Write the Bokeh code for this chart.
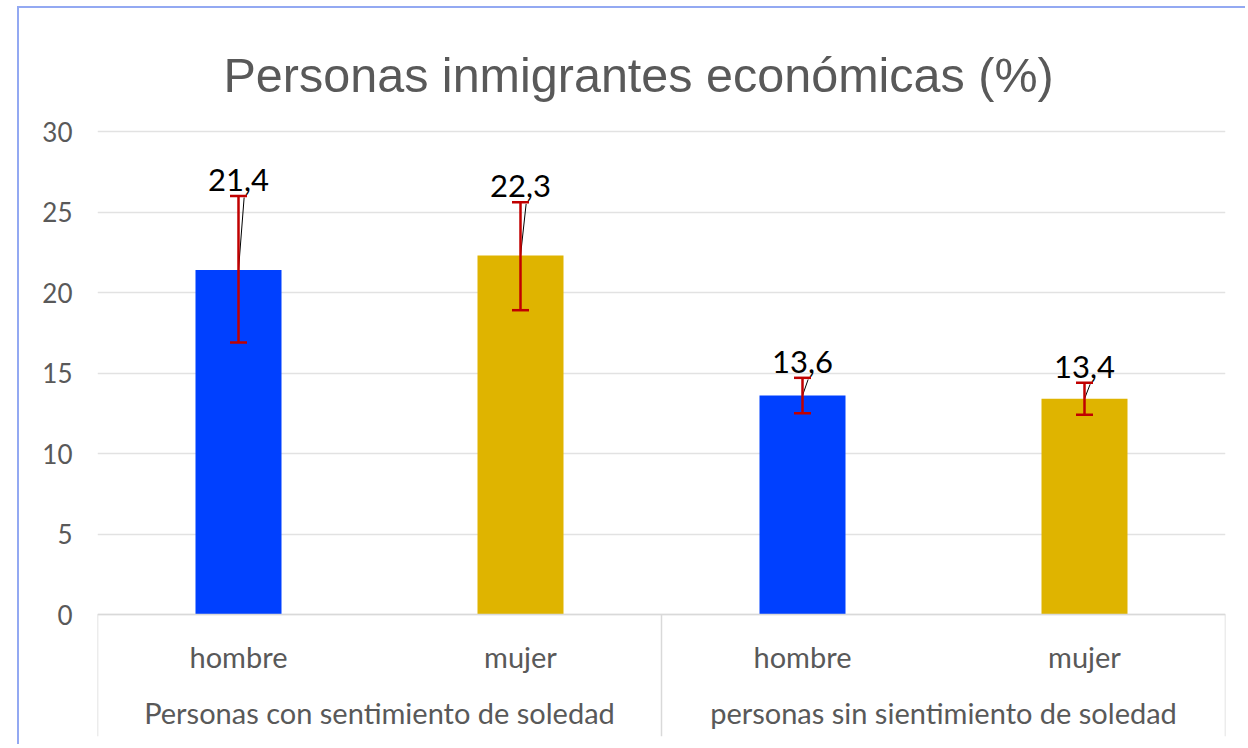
from bokeh.plotting import figure
from bokeh.models import FactorRange, ColumnDataSource, Whisker, TeeHead, FixedTicker
from bokeh.core.properties import value
from bokeh.embed import file_html
from bokeh.resources import INLINE

# ---- data ----
groups = ["Personas con sentimiento de soledad", "Personas con sentimiento de soledad",
          "personas sin sientimiento de soledad", "personas sin sientimiento de soledad"]
sexes = ["hombre", "mujer", "hombre", "mujer"]
values = [21.4, 22.3, 13.6, 13.4]
err_upper = [26.0, 25.6, 14.7, 14.4]
err_lower = [16.9, 18.9, 12.5, 12.4]
labels = ["21,4", "22,3", "13,6", "13,4"]
y_ticks = [0, 5, 10, 15, 20, 25, 30]
title_text = "Personas inmigrantes económicas (%)"

BLUE = "#0040FF"
GOLD = "#DFB400"
colors = [BLUE if s == "hombre" else GOLD for s in sexes]

factors = list(zip(groups, sexes))
x_range = FactorRange(*factors, factor_padding=0, group_padding=0, range_padding=0)

W, H = 1228, 738
px_per_unit = 16.1
y0_canvas = 606
frame_top = 118
frame_bottom = 728
y_start = -(frame_bottom - y0_canvas) / px_per_unit
y_end = (y0_canvas - frame_top) / px_per_unit

p = figure(x_range=x_range, y_range=(y_start, y_end), width=W, height=H,
           output_backend="svg", toolbar_location=None,
           min_border_left=78, min_border_right=22, min_border_top=frame_top,
           min_border_bottom=H - frame_bottom)
p.margin = (6, 0, 0, 17)
p.styles = {"border-left": "2px solid #93A9F2", "border-top": "2px solid #93A9F2"}
p.outline_line_color = None
p.background_fill_color = "white"
p.border_fill_color = "white"

p.title.text = title_text
p.title.text_font = "Liberation Sans"
p.title.text_font_size = "48.5px"
p.title.text_font_style = "normal"
p.title.text_color = "#595959"
p.title.align = "left"
p.title.offset = 126
p.title.standoff = 49

# y axis
p.yaxis.ticker = FixedTicker(ticks=y_ticks)
p.yaxis.axis_line_color = None
p.yaxis.major_tick_line_color = None
p.yaxis.minor_tick_line_color = None
p.yaxis.major_label_standoff = 19
p.yaxis.major_label_text_font = "Lato"
p.yaxis.major_label_text_font_size = "26px"
p.yaxis.major_label_text_color = "#595959"

p.ygrid.ticker = FixedTicker(ticks=y_ticks)
p.ygrid.grid_line_color = "#E2E2E2"
p.ygrid.grid_line_width = 1.5
p.xgrid.grid_line_color = None

# x axis at y = 0
xa = p.xaxis[0]
xa.fixed_location = 0
xa.axis_line_color = "#D9D9D9"
xa.axis_line_width = 1.5
xa.major_tick_line_color = None
xa.minor_tick_line_color = None
xa.separator_line_color = None
xa.major_label_standoff = 18
xa.major_label_text_font = "Lato"
xa.major_label_text_font_size = "29px"
xa.major_label_text_color = "#595959"
xa.group_text_font = "Lato"
xa.group_text_font_size = "29px"
xa.group_text_color = "#595959"
xa.group_text_font_style = "normal"

src = ColumnDataSource(dict(x=factors, top=values, upper=err_upper, lower=err_lower,
                            color=colors, label=labels,
                            label_y=[u + 1.0 for u in err_upper]))

p.vbar(x="x", top="top", width=0.305, source=src, fill_color="color", line_color=None)

# leader lines from label to bar top
lead_x0 = [(g, s, 0.02) for g, s in factors]
lead_src = ColumnDataSource(dict(x0=lead_x0, y0=[u - 0.1 for u in err_upper],
                                 x1=factors, y1=values))
p.segment(x0="x0", y0="y0", x1="x1", y1="y1", source=lead_src,
          line_color="black", line_width=1)

wh = Whisker(base="x", upper="upper", lower="lower", source=src, dimension="height",
             line_color="#C00000", line_width=2.5, level="overlay",
             upper_head=TeeHead(size=17, line_color="#C00000", line_width=2.5),
             lower_head=TeeHead(size=17, line_color="#C00000", line_width=2.5))
p.add_layout(wh)

p.text(x="x", y="label_y", text="label", source=src, text_align="center",
       text_baseline="middle", text_font=value("Lato"), text_font_size="31px",
       text_color="black")

# separators below the axis: edges and between groups
uniq_groups = list(dict.fromkeys(groups))
sep_x = [(uniq_groups[0], sexes[0], -0.5)]
for g in uniq_groups:
    last_sub = [s for gg, s in factors if gg == g][-1]
    sep_x.append((g, last_sub, 0.5))
sep_src = ColumnDataSource(dict(x=sep_x, y0=[0] * len(sep_x), y1=[y_start] * len(sep_x)))
p.segment(x0="x", y0="y0", x1="x", y1="y1", source=sep_src,
          line_color="#D9D9D9", line_width=1.5)

open("out.html", "w").write(file_html(p, INLINE))
